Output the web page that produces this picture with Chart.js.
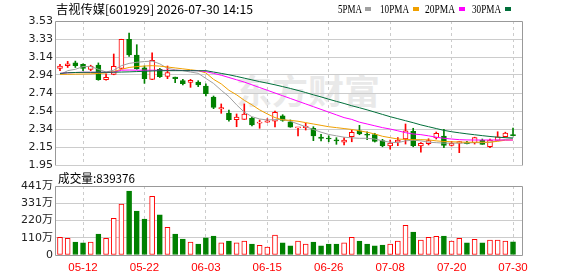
<!DOCTYPE html>
<html>
<head>
<meta charset="utf-8">
<script src="https://cdn.jsdelivr.net/npm/chart.js@4.4.1/dist/chart.umd.min.js"></script>
<style>
  html, body { margin: 0; padding: 0; background: #fff; }
  #wrap { position: relative; width: 578px; height: 276px; overflow: hidden; }
  canvas { position: absolute; left: 0; }
  #priceCanvas { top: 0; }
  #volCanvas { top: 170px; }
  .txt { position: absolute; white-space: nowrap; transform-origin: 0 50%; color: #000; }
  #title { left: 56px; top: 2px; font: 12px/14px 'Noto Sans CJK SC', sans-serif; }
  #volLabel { left: 58px; top: 171px; font: 12px/14px 'Noto Sans CJK SC', sans-serif; }
  .leg { top: 2px; font: 13px/14px 'Liberation Serif', serif; }
  .sw { position: absolute; top: 7px; width: 6px; height: 4px; }
  #watermark { left: 236px; top: 70px; font: bold 34px/40px 'Noto Sans CJK SC', sans-serif; color: #e9e9e9; }
</style>
</head>
<body>
<div id="wrap">
  <div id="watermark" class="txt" data-w="144">东方财富</div>
  <canvas id="priceCanvas" width="578" height="180"></canvas>
  <canvas id="volCanvas" width="578" height="106"></canvas>
  <div id="title" class="txt" data-w="197">吉视传媒[601929] 2026-07-30 14:15</div>
  <div id="volLabel" class="txt" data-w="77">成交量:839376</div>
  <div class="txt leg" style="left:338px" data-w="24">5PMA</div>
  <div class="sw" style="left:365px;background:#a0a0a0"></div>
  <div class="txt leg" style="left:380px" data-w="29">10PMA</div>
  <div class="sw" style="left:413px;background:#f0a000"></div>
  <div class="txt leg" style="left:425px" data-w="30">20PMA</div>
  <div class="sw" style="left:459px;background:#ff00ff"></div>
  <div class="txt leg" style="left:472px" data-w="29">30PMA</div>
  <div class="sw" style="left:505px;background:#006f3a"></div>
</div>
<script>
// ── Data ────────────────────────────────────────────
const DATES = [
  '05-07','05-08','05-11','05-12','05-13','05-14','05-15','05-18','05-19','05-20',
  '05-21','05-22','05-25','05-26','05-27','05-28','05-29','06-01','06-02','06-03',
  '06-04','06-05','06-08','06-09','06-10','06-11','06-12','06-15','06-16','06-17',
  '06-18','06-22','06-23','06-24','06-25','06-26','06-29','06-30','07-01','07-02',
  '07-03','07-06','07-07','07-08','07-09','07-10','07-13','07-14','07-15','07-16',
  '07-17','07-20','07-21','07-22','07-23','07-24','07-27','07-28','07-29','07-30'
];
const LABEL_IDX = [3, 11, 19, 27, 35, 43, 51, 59];

const OPEN = [
  3.01, 3.04, 3.07, 3.055, 3.00, 3.045, 2.886, 2.945, 3.011, 3.33,
  3.157, 3.017, 2.89, 3.00, 2.923, 2.915, 2.875, 2.857, 2.86, 2.817,
  2.696, 2.565, 2.52, 2.447, 2.45, 2.462, 2.41, 2.42, 2.43, 2.49,
  2.425, 2.357, 2.36, 2.353, 2.257, 2.243, 2.223, 2.20, 2.26, 2.326,
  2.283, 2.283, 2.217, 2.158, 2.205, 2.235, 2.32, 2.158, 2.184, 2.246,
  2.268, 2.166, 2.19, 2.195, 2.195, 2.22, 2.15, 2.221, 2.26, 2.283
];
const HIGH = [
  3.055, 3.087, 3.09, 3.06, 3.045, 3.07, 2.95, 3.168, 3.33, 3.398,
  3.27, 3.036, 3.18, 3.01, 3.036, 2.915, 2.89, 2.89, 2.875, 2.84,
  2.707, 2.62, 2.553, 2.51, 2.62, 2.473, 2.444, 2.458, 2.542, 2.502,
  2.444, 2.363, 2.408, 2.37, 2.287, 2.27, 2.25, 2.25, 2.334, 2.385,
  2.315, 2.298, 2.232, 2.224, 2.25, 2.40, 2.353, 2.195, 2.238, 2.312,
  2.342, 2.21, 2.206, 2.21, 2.255, 2.235, 2.235, 2.315, 2.31, 2.356
];
const LOW = [
  2.985, 3.02, 3.02, 2.985, 2.985, 2.88, 2.88, 2.94, 3.005, 3.14,
  3.00, 2.846, 2.885, 2.91, 2.897, 2.853, 2.828, 2.802, 2.81, 2.707,
  2.568, 2.517, 2.43, 2.37, 2.45, 2.378, 2.353, 2.418, 2.367, 2.43,
  2.364, 2.268, 2.334, 2.217, 2.213, 2.205, 2.177, 2.17, 2.205, 2.282,
  2.228, 2.202, 2.15, 2.125, 2.162, 2.18, 2.15, 2.09, 2.17, 2.235,
  2.14, 2.158, 2.085, 2.18, 2.18, 2.177, 2.14, 2.221, 2.254, 2.268
];
const CLOSE = [
  3.035, 3.06, 3.04, 3.01, 3.035, 2.886, 2.912, 3.033, 3.33, 3.157,
  3.006, 2.897, 3.098, 2.92, 2.963, 2.897, 2.842, 2.878, 2.83, 2.732,
  2.583, 2.58, 2.447, 2.477, 2.51, 2.389, 2.415, 2.435, 2.528, 2.44,
  2.364, 2.36, 2.375, 2.27, 2.243, 2.235, 2.215, 2.224, 2.309, 2.29,
  2.276, 2.21, 2.162, 2.19, 2.22, 2.326, 2.162, 2.188, 2.217, 2.298,
  2.166, 2.188, 2.206, 2.184, 2.25, 2.177, 2.224, 2.26, 2.30, 2.272
];
// volume, in 万 shares
const VOLUME = [
  113, 106, 83, 77, 83, 134, 106, 234, 326, 409,
  281, 230, 375, 256, 177, 134, 102, 83, 70, 109,
  121, 77, 89, 77, 89, 70, 62, 51, 128, 77,
  58, 89, 70, 83, 58, 70, 70, 77, 113, 89,
  70, 58, 64, 70, 89, 190, 147, 96, 113, 119,
  121, 89, 106, 77, 100, 77, 96, 96, 89, 83.94
];

const MA5 = [
  2.94, 2.985, 3.00, 3.03, 3.03, 3.00, 2.97, 2.99, 3.04, 3.065,
  3.077, 3.085, 3.09, 3.06, 3.01, 2.995, 2.985, 2.97, 2.956, 2.90,
  2.845, 2.77, 2.70, 2.61, 2.53, 2.48, 2.455, 2.444, 2.448, 2.45,
  2.43, 2.40, 2.37, 2.34, 2.31, 2.285, 2.27, 2.255, 2.248, 2.243,
  2.243, 2.235, 2.215, 2.20, 2.195, 2.215, 2.222, 2.215, 2.20, 2.195,
  2.19, 2.19, 2.19, 2.192, 2.195, 2.195, 2.20, 2.215, 2.23, 2.243
];
const MA10 = [
  2.945, 2.945, 2.947, 2.948, 2.95, 2.955, 2.96, 2.975, 3.00, 3.02,
  3.03, 3.036, 3.04, 3.035, 3.025, 3.015, 3.005, 2.995, 2.985, 2.96,
  2.89, 2.84, 2.77, 2.72, 2.66, 2.61, 2.555, 2.51, 2.47, 2.445,
  2.44, 2.43, 2.415, 2.40, 2.385, 2.37, 2.36, 2.35, 2.34, 2.325,
  2.31, 2.29, 2.265, 2.25, 2.235, 2.23, 2.228, 2.228, 2.225, 2.215,
  2.208, 2.205, 2.202, 2.20, 2.20, 2.20, 2.20, 2.21, 2.222, 2.225
];
const MA20 = [
  2.955, 2.962, 2.965, 2.967, 2.967, 2.967, 2.966, 2.968, 2.99, 2.992,
  2.99, 2.99, 2.99, 2.99, 2.988, 2.988, 2.987, 2.986, 2.985, 2.975,
  2.955, 2.935, 2.91, 2.885, 2.86, 2.83, 2.80, 2.77, 2.74, 2.71,
  2.68, 2.65, 2.62, 2.59, 2.56, 2.53, 2.50, 2.47, 2.45, 2.42,
  2.40, 2.38, 2.36, 2.345, 2.325, 2.305, 2.29, 2.283, 2.27, 2.255,
  2.243, 2.235, 2.228, 2.225, 2.224, 2.224, 2.224, 2.224, 2.224, 2.224
];
const MA30 = [
  2.955, 2.962, 2.965, 2.967, 2.967, 2.967, 2.967, 2.968, 2.97, 2.972,
  2.975, 2.978, 2.982, 2.984, 2.985, 2.985, 2.985, 2.985, 2.984, 2.985,
  2.97, 2.955, 2.94, 2.922, 2.903, 2.884, 2.865, 2.848, 2.83, 2.81,
  2.79, 2.768, 2.745, 2.72, 2.697, 2.672, 2.648, 2.625, 2.60, 2.578,
  2.555, 2.53, 2.505, 2.48, 2.458, 2.436, 2.414, 2.39, 2.37, 2.35,
  2.33, 2.315, 2.303, 2.292, 2.282, 2.272, 2.263, 2.255, 2.25, 2.247
];

const PRICE_TICKS = ['1.95', '2.15', '2.34', '2.54', '2.74', '2.94', '3.14', '3.33', '3.53'];
const PRICE_MIN = 1.95;
const PRICE_MAX = 3.53;
const VOL_TICKS = ['0', '110万', '220万', '331万', '441万'];
const VOL_MAX = 441;

// ── Style ───────────────────────────────────────────
const RED = '#ff0000';
const GREEN = '#008000';
const GRID = '#cccccc';
const FRAME = '#999999';
const X_MIN = -0.52;
const X_MAX = 60.17;
const AXIS_FONT = { family: "'DejaVu Sans', 'Noto Sans CJK SC', sans-serif", size: 11 };

const isUp = (i) => CLOSE[i] >= OPEN[i];
const idx = DATES.map((_, i) => i);

// frame round the plot area
const framePlugin = {
  id: 'frame',
  afterDatasetsDraw(chart, args, opts) {
    const { ctx, chartArea } = chart;
    const l = Math.round(chartArea.left) - 0.5;
    const r = Math.round(chartArea.right) + 0.5;
    const t = Math.round(chartArea.top) + 0.5;
    const b = Math.round(chartArea.bottom) + 0.5;
    ctx.save();
    ctx.strokeStyle = FRAME;
    ctx.lineWidth = 1;
    ctx.beginPath();
    ctx.moveTo(l, b);
    ctx.lineTo(l, t);
    ctx.lineTo(r, t);
    ctx.lineTo(r, b);
    if (opts.bottom) ctx.lineTo(l, b);
    ctx.stroke();
    ctx.restore();
  },
};

function xScale(showLabels) {
  return {
    type: 'linear',
    min: X_MIN,
    max: X_MAX,
    offset: false,
    afterBuildTicks: (a) => { a.ticks = LABEL_IDX.map((v) => ({ value: v })); },
    ticks: {
      display: showLabels,
      autoSkip: false,
      maxRotation: 0,
      padding: 6,
      color: RED,
      font: { family: "'Liberation Sans', sans-serif", size: 11.5 },
      callback: (v) => DATES[v],
    },
    grid: { color: GRID, drawTicks: false, offset: false },
    border: { display: false, dash: [3, 3] },
    afterFit: (a) => { a.height = showLabels ? 21 : 0; },
  };
}

function maLine(label, values, color, order) {
  return {
    type: 'line',
    label,
    data: idx.map((i) => ({ x: i, y: values[i] })),
    borderColor: color,
    borderWidth: 1,
    pointRadius: 0,
    tension: 0,
    order,
  };
}

Chart.defaults.font.family = AXIS_FONT.family;

// ── Price chart ─────────────────────────────────────
new Chart(document.getElementById('priceCanvas'), {
  type: 'bar',
  data: {
    datasets: [
      maLine('30PMA', MA30, '#006f3a', 0),
      maLine('20PMA', MA20, '#ff00ff', 1),
      maLine('10PMA', MA10, '#f0a000', 2),
      maLine('5PMA', MA5, '#a0a0a0', 3),
      {
        label: 'body',
        data: idx.map((i) => ({ x: i, y: [OPEN[i], CLOSE[i]] })),
        backgroundColor: idx.map((i) => (isUp(i) ? '#ffffff' : GREEN)),
        borderColor: idx.map((i) => (isUp(i) ? RED : GREEN)),
        borderWidth: 1,
        borderSkipped: false,
        barThickness: 5,
        minBarLength: 1,
        grouped: false,
        order: 4,
      },
      {
        label: 'wick',
        data: idx.map((i) => ({ x: i, y: [LOW[i], HIGH[i]] })),
        backgroundColor: idx.map((i) => (isUp(i) ? RED : GREEN)),
        borderWidth: 0,
        barThickness: 1,
        grouped: false,
        order: 5,
      },
    ],
  },
  options: {
    responsive: false,
    animation: false,
    devicePixelRatio: 1,
    layout: { padding: { top: 21, right: 56, bottom: 15, left: 0 } },
    plugins: { legend: { display: false }, tooltip: { enabled: false }, frame: { bottom: false } },
    scales: {
      x: xScale(false),
      y: {
        min: PRICE_MIN,
        max: PRICE_MAX,
        afterBuildTicks: (a) => {
          a.ticks = PRICE_TICKS.map((_, k) => ({ value: PRICE_MIN + (k * (PRICE_MAX - PRICE_MIN)) / 8 }));
        },
        ticks: { color: '#222', font: AXIS_FONT, padding: 3, callback: (v, k) => PRICE_TICKS[k] },
        grid: { color: GRID, drawTicks: false },
        border: { display: false },
        afterFit: (a) => { a.width = 56; },
      },
    },
  },
  plugins: [framePlugin],
});

// ── Volume chart ────────────────────────────────────
new Chart(document.getElementById('volCanvas'), {
  type: 'bar',
  data: {
    datasets: [
      {
        label: 'volume',
        data: idx.map((i) => ({ x: i, y: VOLUME[i] })),
        backgroundColor: idx.map((i) => (isUp(i) ? '#ffffff' : GREEN)),
        borderColor: idx.map((i) => (isUp(i) ? RED : GREEN)),
        borderWidth: 1,
        borderSkipped: false,
        barThickness: 5,
        grouped: false,
      },
    ],
  },
  options: {
    responsive: false,
    animation: false,
    devicePixelRatio: 1,
    layout: { padding: { top: 16, right: 56, bottom: 0, left: 0 } },
    plugins: { legend: { display: false }, tooltip: { enabled: false }, frame: { bottom: true } },
    scales: {
      x: xScale(true),
      y: {
        min: 0,
        max: VOL_MAX,
        afterBuildTicks: (a) => {
          a.ticks = VOL_TICKS.map((_, k) => ({ value: (k * VOL_MAX) / 4 }));
        },
        ticks: { color: '#222', font: AXIS_FONT, padding: 3, callback: (v, k) => VOL_TICKS[k] },
        grid: { color: GRID, drawTicks: false },
        border: { display: false },
        afterFit: (a) => { a.width = 56; },
      },
    },
  },
  plugins: [framePlugin],
});

// ── Squeeze html texts to the widths of the picture ─
document.fonts.ready.then(() => {
  document.querySelectorAll('.txt[data-w]').forEach((el) => {
    const w = el.getBoundingClientRect().width;
    el.style.transform = `scaleX(${parseFloat(el.dataset.w) / w})`;
  });
});
</script>
</body>
</html>
